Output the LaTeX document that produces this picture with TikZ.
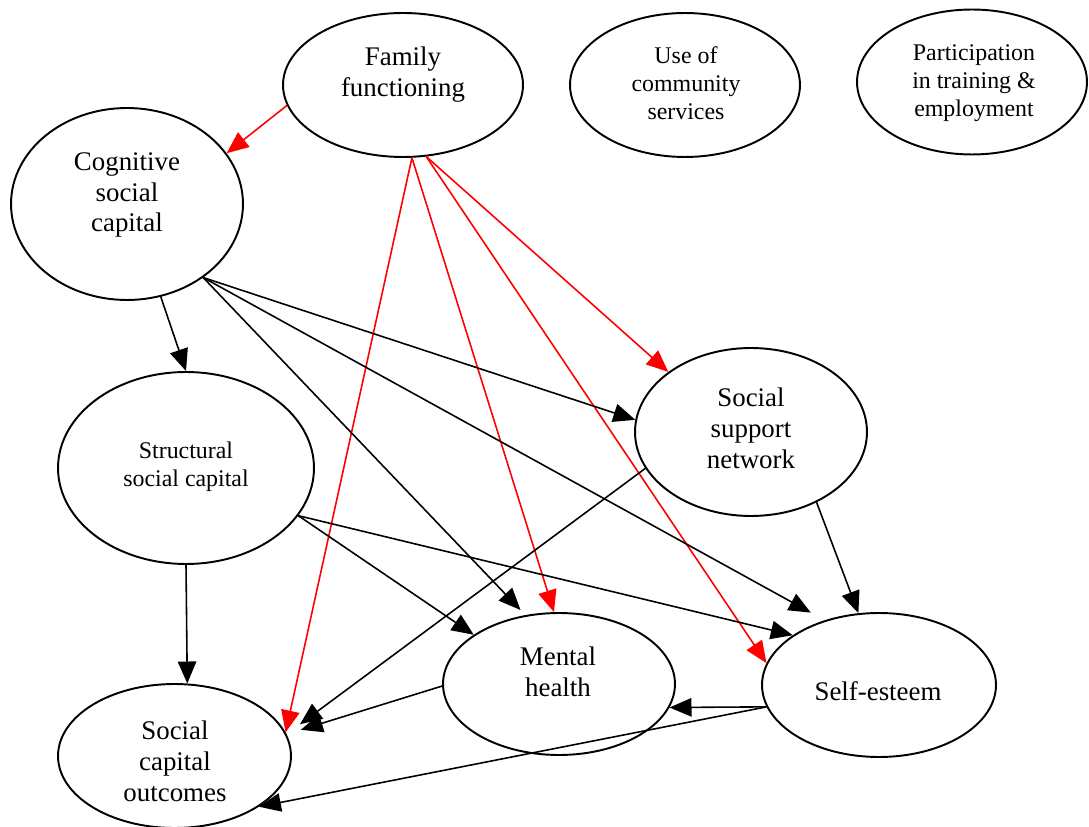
\documentclass[tikz,border=0pt]{standalone}
\usepackage{fontspec}
\setmainfont{Liberation Serif}
\usetikzlibrary{shapes.geometric,arrows.meta}

\begin{document}
\begin{tikzpicture}[x=0.02cm,y=-0.02cm,
  bub/.style 2 args={ellipse,draw,line width=1.1pt,minimum width=#1,minimum height=#2,inner sep=0pt},
  big/.style={align=center,font=\fontsize{15.3}{17.6}\selectfont,inner sep=0pt},
  small/.style={align=center,font=\fontsize{13.6}{15.9}\selectfont,inner sep=0pt},
  link/.style={-{Triangle[length=12.5pt,width=10.5pt]},line width=0.9pt},
  redlink/.style={link,red}]
  \useasboundingbox (0,0) rectangle (1089,827);
  % ellipses
  \node[bub={4.8cm}{2.88cm}] (ff) at (403,85) {};
  \node[bub={4.6cm}{2.88cm}] (ucs) at (685,85) {};
  \node[bub={4.6cm}{2.9cm}] (pte) at (972,82) {};
  \node[bub={4.64cm}{3.84cm}] (cog) at (127,204) {};
  \node[bub={5.12cm}{3.84cm}] (str) at (186,468) {};
  \node[bub={4.64cm}{3.36cm}] (ss) at (751,432) {};
  \node[bub={4.64cm}{2.84cm}] (mh) at (559,684) {};
  \node[bub={4.68cm}{2.88cm}] (se) at (879,685) {};
  \node[bub={4.66cm}{2.88cm}] (out) at (174.5,756) {};
  % labels
  \node[big] (fftxt) at (403,75) {Family\\functioning};
  \node[small] (ucstxt) at (686,83) {Use of\\community\\services};
  \node[small] (ptetxt) at (974,83) {Participation\\in training \&\\employment};
  \node[big] (cogtxt) at (127,195) {Cognitive\\social\\capital};
  \node[small] (strtxt) at (186,467) {Structural\\social capital};
  \node[big] (sstxt) at (751,428) {Social\\support\\network};
  \node[big] (mhtxt) at (558,672) {Mental\\health};
  \node[big] (setxt) at (878,691) {Self-esteem};
  \node[big] (outtxt) at (175,761) {Social\\capital\\outcomes};
  % family functioning paths
  \draw[redlink] (ff.190.8) -- (cog.27.3);
  \draw[redlink] (ff.-83) -- (out.12.5);
  \draw[redlink] (ff.-83) -- (mh.94.6);
  \draw[redlink] (ff.-72.3) -- (ss.144.9);
  \draw[redlink] (ff.-72.3) -- (se.169.9);
  % other paths (some tips stop short of the ellipse)
  \draw[link] (cog.-70) -- (str.90.5);
  \draw[link] (cog.-44.2) -- (ss.174.6);
  \draw[link,shorten >=4pt] (cog.-44.2) -- (mh.116.1);
  \draw[link,shorten >=9pt] (cog.-44.2) -- (se.130.2);
  \draw[link] (str.-90) -- (out.80);
  \draw[link] (str.-23.6) -- (mh.150.3);
  \draw[link] (str.-23.6) -- (se.150.5);
  \draw[link,shorten >=9.5pt] (ss.199.8) -- (out.11.7);
  \draw[link] (ss.-47.6) -- (se.106.3);
  \draw[link,shorten >=8.5pt] (mh.181) -- (out.11);
  \draw[link] (se.191.7) -- (mh.-12.9);
  \draw[link] (se.191.7) -- (out.-31);
\end{tikzpicture}
\end{document}
